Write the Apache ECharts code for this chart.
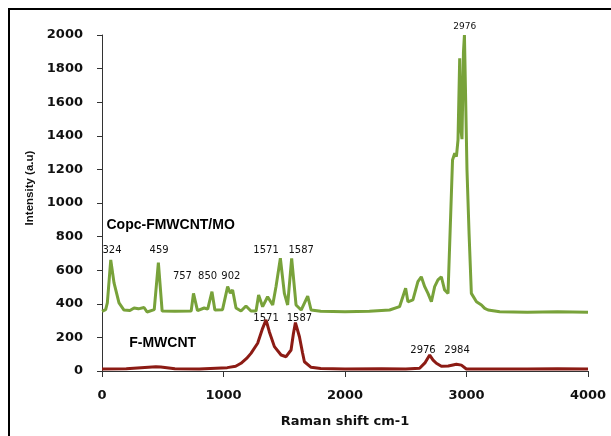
<!DOCTYPE html>
<html>
<head>
<meta charset="utf-8">
<script src="https://cdn.jsdelivr.net/npm/echarts@6/dist/echarts.min.js"></script>
<style>
    html, body { margin: 0; padding: 0; background: #fff; }
    #chart { width: 611px; height: 436px; }
</style>
</head>
<body>
<div id="chart"></div>
<script>
// Copc-FMWCNT/MO spectrum (green)
var copcShift = [0, 16, 30, 44, 72, 99, 140, 181, 230, 264, 300, 346, 371, 430, 464, 495, 600, 734, 753, 786, 841, 870, 905, 929, 992, 1034, 1056, 1075, 1103, 1144, 1185, 1226, 1268, 1289, 1322, 1363, 1405, 1432, 1468, 1501, 1528, 1561, 1597, 1639, 1693, 1721, 1800, 2000, 2200, 2367, 2449, 2499, 2518, 2559, 2600, 2628, 2656, 2683, 2711, 2738, 2765, 2793, 2820, 2848, 2862, 2885, 2903, 2917, 2930, 2944, 2955, 2963, 2975, 2983, 2998, 3004, 3021, 3040, 3082, 3123, 3150, 3178, 3274, 3500, 3750, 4000];
var copcInt = [355, 363, 365, 405, 661, 524, 405, 363, 360, 375, 370, 378, 351, 365, 645, 357, 355, 357, 462, 359, 375, 368, 472, 363, 365, 502, 464, 482, 375, 357, 387, 357, 357, 452, 383, 442, 393, 502, 671, 462, 393, 671, 393, 363, 446, 363, 355, 352, 355, 363, 383, 492, 412, 423, 532, 561, 502, 462, 412, 502, 542, 561, 482, 462, 470, 1256, 1296, 1276, 1375, 1861, 1430, 1380, 1900, 2000, 2000, 1196, 821, 462, 412, 393, 373, 363, 353, 350, 352, 350];

// F-MWCNT spectrum (dark red)
var fmShift = [0, 200, 443, 484, 600, 800, 1031, 1100, 1144, 1190, 1226, 1281, 1322, 1350, 1377, 1419, 1474, 1515, 1556, 1575, 1592, 1625, 1650, 1666, 1721, 1800, 2000, 2300, 2500, 2614, 2660, 2697, 2725, 2752, 2793, 2850, 2917, 2958, 2999, 3200, 3500, 3750, 4000];
var fmInt = [12, 14, 26, 24, 14, 12, 20, 28, 46, 75, 105, 165, 254, 304, 234, 145, 95, 85, 125, 220, 288, 204, 110, 55, 22, 15, 12, 14, 12, 16, 50, 95, 65, 46, 28, 30, 40, 35, 12, 12, 12, 14, 12];

// peak labels (text, position in data units)
var peakText = ['2976', '324', '459', '757', '850', '902', '1571', '1587', '1571', '1587', '2976', '2984'];
var peakX = [2985, 82, 470, 662, 869, 1061, 1350, 1639, 1350, 1625, 2642, 2922];
var peakY = [2049, 716, 716, 565, 565, 565, 716, 716, 314, 314, 125, 125];
var peakSize = [9, 10, 10, 10, 10, 10, 10, 10, 10, 10, 10, 10];

// series names written on the plot
var nameText = ['Copc-FMWCNT/MO', 'F-MWCNT'];
var nameX = [565, 499];
var nameY = [869, 167];

var xTicks = [0, 1000, 2000, 3000, 4000];

function zip(xs, ys) {
    return xs.map(function (x, i) { return [x, ys[i]]; });
}

function plain(v) {
    return String(v);
}

var chart = echarts.init(document.getElementById('chart'));

var option = {
    animation: false,
    backgroundColor: '#fff',
    grid: {
        left: 102,
        right: 23,
        top: 35,
        bottom: 65
    },
    graphic: [{
        type: 'rect',
        shape: { x: 9, y: 9, width: 700, height: 500 },
        style: { fill: 'none', stroke: '#000', lineWidth: 2 }
    }],
    xAxis: {
        type: 'value',
        min: xTicks[0],
        max: xTicks[xTicks.length - 1],
        interval: 1000,
        name: 'Raman shift cm-1',
        nameLocation: 'middle',
        nameGap: 44,
        nameTextStyle: { fontFamily: 'DejaVu Sans', fontWeight: 'bold', fontSize: 13, color: '#111' },
        axisLine: { show: true, lineStyle: { color: '#333', width: 1 } },
        axisTick: { show: true, length: 6, lineStyle: { color: '#333' } },
        axisLabel: { margin: 18, formatter: plain, fontFamily: 'DejaVu Sans', fontWeight: 'bold', fontSize: 13, color: '#111' },
        splitLine: { show: false }
    },
    yAxis: {
        type: 'value',
        min: 0,
        max: 2000,
        interval: 200,
        name: 'Intensity (a.u)',
        nameLocation: 'middle',
        nameGap: 62,
        nameTextStyle: { fontFamily: 'Liberation Sans', fontWeight: 'bold', fontSize: 11.5, color: '#111', padding: [0, 0, 0, 30] },
        axisLine: { show: true, lineStyle: { color: '#333', width: 1 } },
        axisTick: { show: true, length: 5, lineStyle: { color: '#333' } },
        axisLabel: { margin: 19, formatter: plain, fontFamily: 'DejaVu Sans', fontWeight: 'bold', fontSize: 13, color: '#111' },
        splitLine: { show: false }
    },
    series: [
        {
            name: nameText[0],
            type: 'line',
            data: zip(copcShift, copcInt),
            showSymbol: false,
            lineStyle: { color: '#78a23a', width: 3 },
            itemStyle: { color: '#78a23a' }
        },
        {
            name: nameText[1],
            type: 'line',
            data: zip(fmShift, fmInt),
            showSymbol: false,
            lineStyle: { color: '#8c1b14', width: 3 },
            itemStyle: { color: '#8c1b14' }
        },
        {
            type: 'scatter',
            symbolSize: 0,
            clip: false,
            silent: true,
            itemStyle: { opacity: 1 },
            data: peakText.map(function (t, i) {
                return {
                    value: [peakX[i], peakY[i]],
                    name: t,
                    label: { fontSize: peakSize[i] }
                };
            }),
            label: {
                show: true,
                position: 'inside',
                formatter: '{b}',
                fontFamily: 'DejaVu Sans',
                color: '#111'
            }
        },
        {
            type: 'scatter',
            symbolSize: 0,
            clip: false,
            silent: true,
            itemStyle: { opacity: 1 },
            data: nameText.map(function (t, i) {
                return { value: [nameX[i], nameY[i]], name: t };
            }),
            label: {
                show: true,
                position: 'inside',
                formatter: '{b}',
                fontFamily: 'Liberation Sans',
                fontWeight: 'bold',
                fontSize: 14,
                color: '#000'
            }
        }
    ]
};
chart.setOption(option);
</script>
</body>
</html>
